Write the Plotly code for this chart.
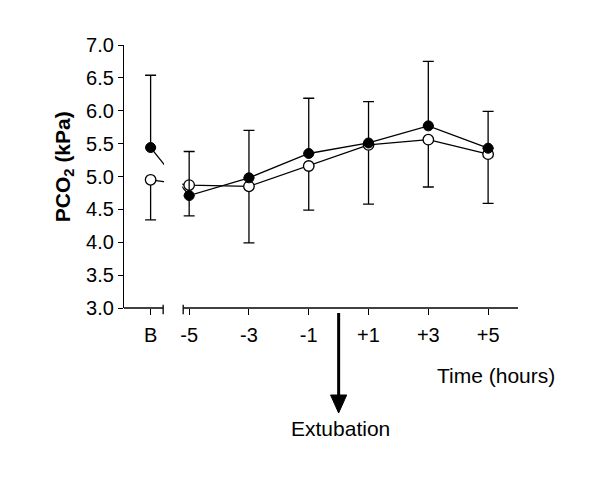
import plotly.graph_objects as go

# ---- data ----
time_labels = ["B", "-5", "-3", "-1", "+1", "+3", "+5"]
hours = [-5, -3, -1, 1, 3, 5]          # measured time points (baseline shown as "B")
filled_mean = [5.44, 4.71, 4.98, 5.35, 5.51, 5.77, 5.43]
filled_upper = [6.54, 5.38, 5.70, 6.19, 6.14, 6.75, 5.99]
open_mean = [4.95, 4.87, 4.85, 5.16, 5.48, 5.56, 5.34]
open_lower = [4.34, 4.40, 3.99, 4.49, 4.58, 4.84, 4.59]

# ---- layout constants ----
BASE_POS = -6.29          # where the baseline category sits on the numeric axis
X_MIN, X_MAX = -7.18, 6.0
BRK0, BRK1 = -5.87, -5.20  # axis break
xpos = [BASE_POS] + hours

FONT = "Liberation Sans, Arial, sans-serif"

filled_plus = [u - m for u, m in zip(filled_upper, filled_mean)]
open_minus = [m - l for m, l in zip(open_mean, open_lower)]

fig = go.Figure()
fig.add_trace(go.Scatter(
    x=xpos, y=open_mean, mode="lines+markers",
    line=dict(color="black", width=1.3),
    marker=dict(symbol="circle", size=10.5, color="white", line=dict(color="black", width=1.3)),
    error_y=dict(type="data", symmetric=False, array=[0] * len(open_mean), arrayminus=open_minus,
                 color="black", thickness=1.3, width=5.5),
    showlegend=False, cliponaxis=False,
))
fig.add_trace(go.Scatter(
    x=xpos, y=filled_mean, mode="lines+markers",
    line=dict(color="black", width=1.3),
    marker=dict(symbol="circle", size=10, color="black", line=dict(color="black", width=1)),
    error_y=dict(type="data", symmetric=False, array=filled_plus, arrayminus=[0] * len(filled_mean),
                 color="black", thickness=1.3, width=5.5),
    showlegend=False, cliponaxis=False,
))

shapes = [
    # white mask hiding the connecting lines inside the axis break
    dict(type="rect", xref="x", yref="paper", x0=BRK0 + 0.03, x1=BRK1 - 0.03, y0=0.004, y1=1.0,
         fillcolor="white", line=dict(width=0), layer="above"),
    # broken x axis line
    dict(type="line", xref="x", yref="paper", x0=X_MIN, x1=BRK0, y0=0, y1=0,
         line=dict(color="black", width=1.3), layer="above"),
    dict(type="line", xref="x", yref="paper", x0=BRK1, x1=X_MAX, y0=0, y1=0,
         line=dict(color="black", width=1.3), layer="above"),
    dict(type="line", xref="x", yref="paper", x0=BRK0, x1=BRK0, y0=0.012, y1=-0.024,
         line=dict(color="black", width=1.3), layer="above"),
    dict(type="line", xref="x", yref="paper", x0=BRK1, x1=BRK1, y0=0.012, y1=-0.024,
         line=dict(color="black", width=1.3), layer="above"),
    # extubation arrow
    dict(type="line", xref="x", yref="paper", x0=0, x1=0, y0=-0.019, y1=-0.335,
         line=dict(color="black", width=3), layer="above"),
    dict(type="path", xref="x", yref="paper",
         path="M -0.27,-0.3308 L 0.27,-0.3308 L 0,-0.3992 Z",
         fillcolor="black", line=dict(color="black", width=1), layer="above"),
]

fig.update_layout(
    width=600, height=479,
    margin=dict(l=116, r=90, t=37, b=179),
    paper_bgcolor="white", plot_bgcolor="white",
    font=dict(family=FONT, size=20, color="black"),
    shapes=shapes,
    xaxis=dict(
        range=[X_MIN, X_MAX], showgrid=False, zeroline=False, showline=False,
        tickmode="array", tickvals=xpos, ticktext=time_labels,
        ticks="outside", ticklen=6, tickwidth=1.3, tickcolor="black",
        ticklabelstandoff=3,
        tickfont=dict(family=FONT, size=20, color="black"),
    ),
    yaxis=dict(
        range=[3, 7], showgrid=False, zeroline=False, showline=True, linecolor="black", linewidth=1.3,
        tickmode="linear", tick0=3, dtick=0.5, tickformat=".1f",
        ticks="outside", ticklen=5, tickwidth=1.3, tickcolor="black",
        tickfont=dict(family=FONT, size=20, color="black"),
    ),
    annotations=[
        dict(text="<b>PCO<sub>2</sub> (kPa)</b>", xref="paper", yref="paper", x=-0.152, y=0.536,
             textangle=-90, showarrow=False, font=dict(family=FONT, size=21, color="black"),
             xanchor="center", yanchor="middle"),
        dict(text="Time (hours)", xref="paper", yref="paper", x=0.944, y=-0.255,
             showarrow=False, font=dict(family=FONT, size=21, color="black"),
             xanchor="center", yanchor="middle"),
        dict(text="Extubation", xref="x", yref="paper", x=0.05, y=-0.46,
             showarrow=False, font=dict(family=FONT, size=21, color="black"),
             xanchor="center", yanchor="middle"),
    ],
)

fig.write_html("out.html")
